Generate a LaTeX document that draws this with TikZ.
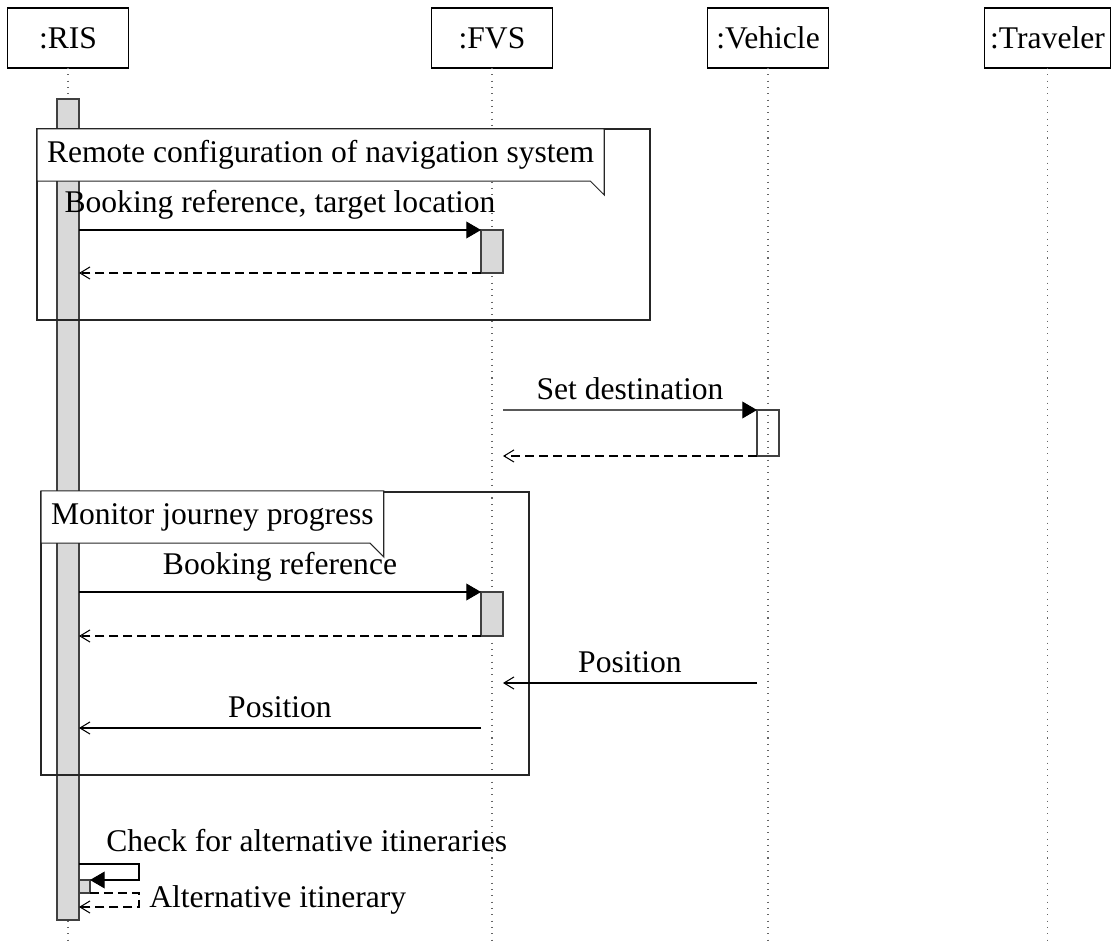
\documentclass[tikz,border=0pt]{standalone}
\usepackage{fontspec}
\setmainfont{Liberation Serif}
\usetikzlibrary{arrows.meta}

\tikzset{
  inst/.style={draw, fill=white, minimum width=46pt, minimum height=22.8pt, outer sep=0pt},
  lifeline/.style={dotted, black!60},
  actbar/.style={draw=black!75, fill=black!15, inner sep=0pt, outer sep=0pt, minimum width=8.36pt},
  emptybar/.style={draw=black!75, inner sep=0pt, outer sep=0pt, minimum width=8.36pt},
  blockframe/.style={draw=black!85},
  blocktitle/.style={fill=white, inner sep=3.8pt, outer sep=0pt, minimum height=19.8pt, anchor=west},
  callmsg/.style={-{Triangle[length=5.6pt,width=6.4pt]}},
  replymsg/.style={dash pattern=on 3.4pt off 1.9pt, -{Straight Barb[length=3.8pt,width=4.6pt]}},
  asyncmsg/.style={-{Straight Barb[length=3.8pt,width=4.6pt]}},
  msglabel/.style={above, inner sep=3.8pt}
}

\begin{document}
\begin{tikzpicture}[x=0.38pt,y=0.38pt,yscale=-1,every node/.style={font=\fontsize{12}{14}\selectfont}]
	\useasboundingbox (0,0) rectangle (1112,946);

	% instances and lifelines
	\node[inst] (ris) at (68,38) {:RIS};
	\node[inst] (fvs) at (492,38) {:FVS};
	\node[inst] (veh) at (768,38) {:Vehicle};
	\node[inst, inner xsep=2pt] (trav) at (1047.5,38) {:Traveler};

	\draw[lifeline] (ris) -- (ris |- 0,946);
	\draw[lifeline] (fvs) -- (fvs |- 0,946);
	\draw[lifeline] (veh) -- (veh |- 0,946);
	\draw[lifeline] (trav) -- (trav |- 0,946);

	% activations
	\node[actbar, minimum height=312pt] (risact) at (68,509.5) {};
	\node[actbar, minimum height=16.34pt] (fvsbara) at (492,251.5) {};
	\node[emptybar, minimum height=17.48pt] (vehbar) at (768,433) {};
	\node[actbar, minimum height=16.72pt] (fvsbarb) at (492,614) {};
	\node[actbar, minimum width=4.18pt, minimum height=4.94pt] (rissub) at (84.5,886.5) {};

	% frames
	\draw[blockframe] (37,129) rectangle (650,320);
	\node[blocktitle] (remotetitle) at (37,155) {Remote configuration of navigation system};
	\draw[blockframe] (remotetitle.north west) -- (remotetitle.north east) -- ([yshift=5.3pt]remotetitle.south east) -- ([xshift=-5.3pt]remotetitle.south east) -- (remotetitle.south west) -- cycle;

	\draw[blockframe] (41,492) rectangle (529,775);
	\node[blocktitle] (monitortitle) at (41,517) {Monitor journey progress};
	\draw[blockframe] (monitortitle.north west) -- (monitortitle.north east) -- ([yshift=5.3pt]monitortitle.south east) -- ([xshift=-5.3pt]monitortitle.south east) -- (monitortitle.south west) -- cycle;

	% remote configuration
	\draw[callmsg] (risact.east |- fvsbara.north west) -- node[msglabel] {Booking reference, target location} (fvsbara.north west);
	\draw[replymsg] (fvsbara.south west) -- (risact.east |- fvsbara.south west);

	% destination
	\coordinate (fvsout) at (503,410);
	\draw[callmsg] (fvsout) -- node[msglabel] {Set destination} (vehbar.north west);
	\draw[replymsg] (vehbar.south west) -- (fvsout |- vehbar.south west);

	% monitoring
	\draw[callmsg] (risact.east |- fvsbarb.north west) -- node[msglabel] {Booking reference} (fvsbarb.north west);
	\draw[replymsg] (fvsbarb.south west) -- (risact.east |- fvsbarb.south west);
	\coordinate (vehpos) at (757,683);
	\coordinate (fvspos) at (503,683);
	\draw[asyncmsg] (vehpos) -- node[msglabel] {Position} (fvspos);
	\coordinate (fvsfwd) at (481,728);
	\draw[asyncmsg] (fvsfwd) -- node[msglabel] {Position} (risact.east |- fvsfwd);

	% self call
	\coordinate (selftop) at (139,864);
	\coordinate (selfbot) at (139,907);
	\draw[callmsg] (risact.east |- selftop) -- (selftop) |- (rissub.north east);
	\draw[replymsg] (rissub.south east) -| (selfbot) -- (risact.east |- selfbot);
	\node[anchor=base west] (checklbl) at (97,852) {Check for alternative itineraries};
	\node[anchor=base west] (altlbl) at (140,908) {Alternative itinerary};

\end{tikzpicture}
\end{document}
